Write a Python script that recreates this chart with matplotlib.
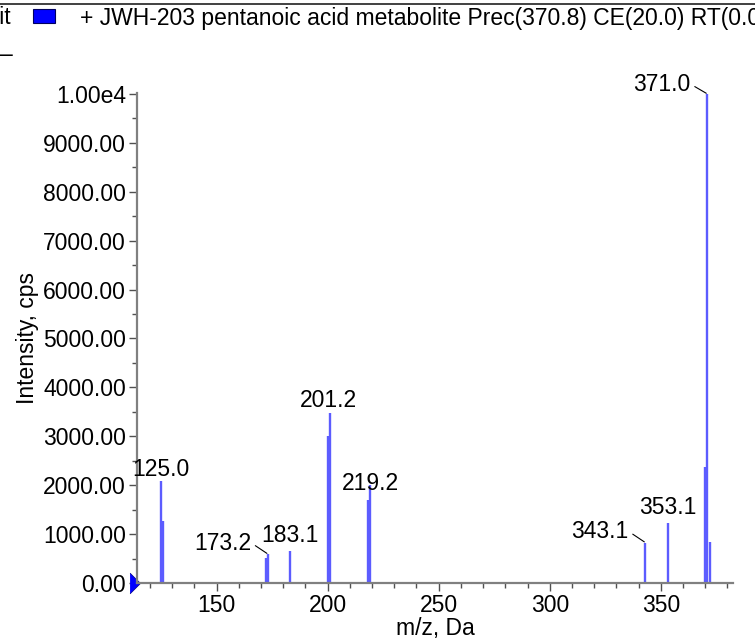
import matplotlib
matplotlib.use("Agg")
import matplotlib.pyplot as plt
from matplotlib.lines import Line2D
from matplotlib.patches import Rectangle
from matplotlib.ticker import MultipleLocator

plt.rcParams['font.family'] = ['Liberation Sans', 'DejaVu Sans']

# peaks
mz = [125.0, 126.1, 172.2, 173.2, 183.1, 200.2, 201.2, 218.2, 219.2,
      343.1, 353.1, 370.0, 371.0, 372.0]
intensity = [2090, 1270, 510, 590, 660, 3010, 3470, 1700, 2000,
             825, 1220, 2380, 10000, 830]

# labelled peaks: (m/z, label, dx, dy in points, leader line)
labels = [(125.0, "125.0", 0, 0, False),
          (173.2, "173.2", -12, 8, True),
          (183.1, "183.1", 0, 3, False),
          (201.2, "201.2", -1, 1, False),
          (219.2, "219.2", 0, -7, False),
          (343.1, "343.1", -12, 8, True),
          (353.1, "353.1", 0, 3, False),
          (371.0, "371.0", -12, 7, True)]

yticks = [0, 1000, 2000, 3000, 4000, 5000, 6000, 7000, 8000, 9000, 10000]
yticklabels = ["0.00", "1000.00", "2000.00", "3000.00", "4000.00", "5000.00",
               "6000.00", "7000.00", "8000.00", "9000.00", "1.00e4"]
xticks = [150, 200, 250, 300, 350]

title = "+ JWH-203 pentanoic acid metabolite Prec(370.8) CE(20.0) RT(0.00) Exp 1"

fs = 16.5
fig = plt.figure(figsize=(7.55, 6.41), dpi=100)
ax = fig.add_axes([137/755, 58/641, 596/755, 490/641])

ax.vlines(mz, 0, intensity, colors="#5c5cff", linewidth=1.7)

for m, lab, dx, dy, leader in labels:
    h = intensity[mz.index(m)]
    if leader:
        ax.annotate(lab, xy=(m, h), xytext=(dx, dy), textcoords="offset points",
                    ha="right", va="center", fontsize=fs, annotation_clip=False,
                    arrowprops=dict(arrowstyle="-", color="black", lw=0.8,
                                    relpos=(1, 0.5), shrinkA=1, shrinkB=1))
    else:
        ax.annotate(lab, xy=(m, h), xytext=(dx, dy), textcoords="offset points",
                    ha="center", va="bottom", fontsize=fs, annotation_clip=False)

ax.set_xlim(114.2, 382.5)
ax.set_ylim(0, 10020)
ax.set_xticks(xticks)
ax.xaxis.set_minor_locator(MultipleLocator(10))
ax.set_yticks(yticks)
ax.set_yticklabels(yticklabels)
ax.yaxis.set_minor_locator(MultipleLocator(500))

for s in ["top", "right"]:
    ax.spines[s].set_visible(False)
for s in ["left", "bottom"]:
    ax.spines[s].set_color("#808080")
    ax.spines[s].set_linewidth(1.6)
ax.tick_params(which="major", length=6, width=1, color="#505050", labelsize=fs, pad=2)
ax.tick_params(which="minor", length=3.5, width=1, color="#505050")

ax.set_xlabel("m/z, Da", fontsize=fs, labelpad=0)
ax.set_ylabel("Intensity, cps", fontsize=fs, labelpad=3)

# blue marker at the origin
ax.plot([115.5], [0], marker=[(-1, -1), (0, 0), (-1, 1)], markersize=15,
        color="#0000ff", markeredgecolor="#000080", markeredgewidth=0.5, clip_on=False)

# header row
fig.add_artist(Line2D([0, 1], [1 - 3.5/641, 1 - 3.5/641], color="#202020", lw=1.2))
fig.text(11/755, 1 - 18/641, "Unit", ha="right", va="center", fontsize=fs)
fig.add_artist(Rectangle((33/755, 1 - 23/641), 22/755, 14/641, facecolor="#0000ff",
                         edgecolor="#000060", lw=0.8))
fig.text(80/755, 1 - 18/641, title, ha="left", va="center", fontsize=fs)
fig.text(0, 1 - 54/641, "–", ha="left", va="center", fontsize=fs)

fig.savefig("out.png", dpi=100)
